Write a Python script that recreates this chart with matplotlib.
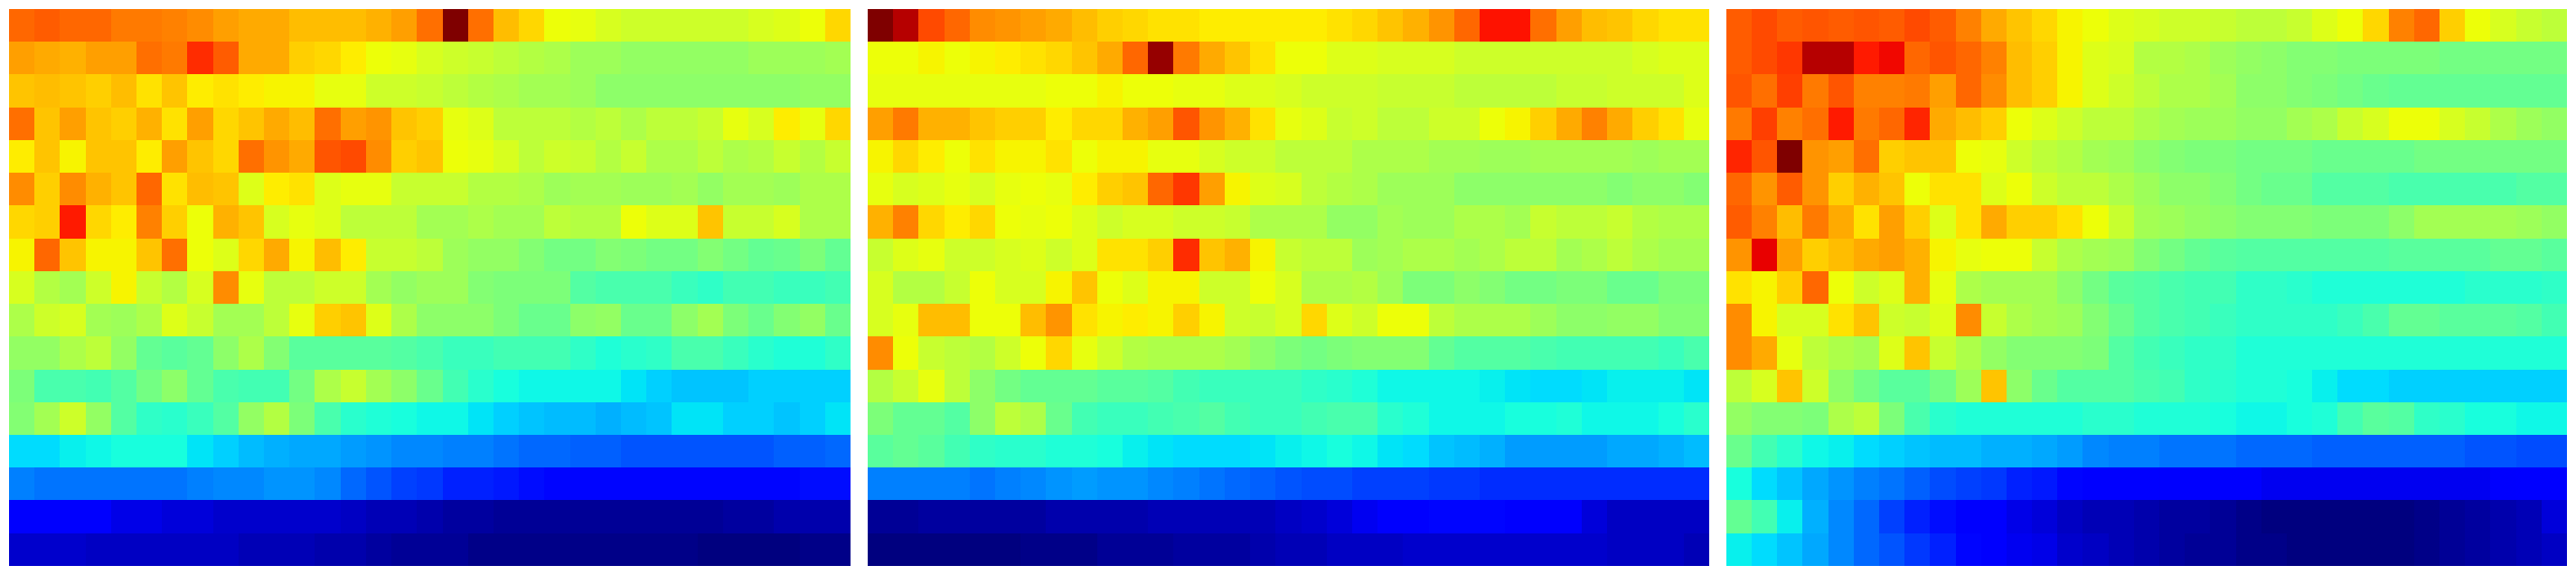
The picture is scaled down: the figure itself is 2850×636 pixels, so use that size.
"""
Three jet heatmaps side by side, no axes, 17 rows by 33 columns each
Values are read off the reference colours, in percent of the colour range
"""
import matplotlib
matplotlib.use('Agg')
import matplotlib.pyplot as plt
import numpy as np

left_panel = [
    [80,81,80,80,78,78,77,76,74,73,73,71,71,71,72,74,79,100,79,71,68,64,63,61,60,60,60,60,60,61,62,64,68],
    [74,73,72,74,74,79,78,86,81,73,73,69,68,66,64,63,61,60,59,58,57,56,54,54,53,53,53,53,53,54,54,54,55],
    [70,71,70,69,71,67,70,66,67,66,65,65,63,63,60,60,59,58,57,56,55,55,54,52,52,52,52,52,52,52,52,53,53],
    [79,70,74,70,69,72,67,74,68,70,73,71,79,74,75,70,69,63,62,58,58,58,57,58,56,58,58,59,63,61,66,63,68],
    [66,70,65,70,70,66,74,70,68,79,75,73,82,83,76,69,70,64,63,61,58,60,59,57,59,56,56,58,56,57,59,57,59],
    [76,69,76,72,70,80,67,71,70,62,66,67,62,63,63,59,59,59,57,57,56,54,55,55,54,54,55,53,55,55,54,56,56],
    [68,69,88,68,66,77,69,64,72,70,61,63,62,58,58,58,55,55,56,55,55,58,57,57,64,62,62,70,59,59,61,56,56],
    [65,80,70,65,65,70,79,64,62,68,73,65,71,66,59,59,58,54,53,53,51,49,49,51,50,49,49,51,49,47,48,50,47],
    [61,57,55,60,65,59,57,61,76,63,58,58,60,60,55,53,54,54,51,50,50,50,45,44,44,44,42,41,43,43,42,42,43],
    [56,60,61,55,54,56,62,59,55,55,58,63,69,70,62,56,52,52,52,50,48,48,52,53,48,48,52,55,50,48,51,53,48],
    [53,53,56,58,53,47,46,47,52,56,51,46,46,46,46,45,44,42,42,43,43,43,41,39,40,41,44,44,42,40,39,39,41],
    [50,44,44,43,45,49,52,47,44,43,43,49,56,59,55,52,48,43,40,38,37,37,37,37,35,33,32,32,32,33,33,33,33],
    [51,55,60,53,45,41,40,42,45,53,57,50,44,40,39,38,37,37,35,33,32,31,31,30,31,32,35,35,33,33,32,33,35],
    [34,34,36,37,38,38,38,35,33,31,30,29,29,28,27,26,26,25,25,24,23,23,22,22,21,21,21,21,21,21,22,22,23],
    [25,24,24,24,24,24,24,25,26,26,27,27,26,23,21,19,18,16,16,15,14,13,13,13,13,13,13,13,13,13,13,14,14],
    [11,11,11,11,9,9,8,8,7,7,7,7,7,6,5,5,4,3,3,2,2,2,2,2,2,2,2,2,3,3,4,4,4],
    [7,7,7,6,6,6,6,6,6,5,5,5,4,4,3,2,2,2,1,1,1,1,1,1,1,1,1,0,0,0,0,1,1],
]

middle_panel = [
    [100,95,83,80,76,75,74,73,71,69,68,67,67,66,66,66,66,66,67,68,70,72,75,80,89,89,79,74,71,70,68,67,67],
    [64,64,65,64,65,66,67,68,70,73,80,98,78,73,70,67,64,64,62,62,61,61,61,60,60,60,60,60,60,60,61,62,62],
    [63,63,63,63,63,63,63,64,64,65,64,64,63,63,62,62,61,60,60,60,59,59,59,58,58,58,58,59,59,60,60,60,62],
    [74,78,72,72,70,69,69,66,68,68,72,74,82,75,72,67,63,62,59,60,58,58,60,60,64,65,69,73,77,73,69,67,63],
    [65,68,66,64,67,65,65,67,64,65,65,63,63,61,60,60,58,58,58,56,56,56,55,55,54,54,55,55,55,55,54,55,55],
    [63,61,62,63,61,63,64,63,66,69,70,80,85,74,65,62,61,58,57,56,54,54,54,52,52,52,52,52,52,51,52,52,51],
    [72,77,68,66,68,64,63,64,62,60,61,61,60,60,59,56,56,56,53,53,55,54,54,56,56,55,59,58,58,59,57,56,56],
    [59,62,63,60,60,61,62,60,62,67,67,69,86,70,72,65,59,58,58,54,55,56,56,55,56,58,58,55,56,58,56,55,55],
    [61,57,57,59,64,61,61,65,70,64,62,65,65,60,60,64,61,56,56,57,54,50,50,52,51,49,49,50,50,48,48,50,50],
    [61,63,71,71,64,64,71,75,67,65,66,65,69,65,60,59,61,68,62,60,64,64,58,56,56,56,54,52,52,53,53,51,51],
    [76,64,59,58,57,60,64,68,63,60,57,56,56,56,55,52,50,49,50,51,51,51,47,45,45,45,44,43,43,43,43,42,44],
    [57,59,63,58,52,49,47,47,47,46,46,45,43,42,42,42,42,41,40,39,37,37,37,37,36,35,34,34,35,36,36,36,35],
    [50,47,47,45,52,58,56,48,43,42,42,43,44,45,43,42,42,43,44,44,40,39,37,37,37,38,38,39,37,37,37,38,40],
    [46,47,46,43,41,40,40,39,39,38,36,35,34,34,34,35,36,37,38,37,35,34,32,31,30,28,28,28,28,29,29,30,31],
    [25,25,25,25,24,25,26,27,28,27,27,26,25,24,23,22,21,20,20,19,19,19,18,18,17,17,17,17,17,17,17,17,17],
    [2,2,3,3,3,3,3,4,4,4,4,5,5,5,5,5,6,7,8,10,11,11,13,13,13,11,11,11,8,6,6,6,6],
    [0,0,0,0,0,0,1,1,1,2,2,2,3,3,3,4,5,5,6,6,6,7,7,7,7,7,7,7,7,6,6,6,5],
]

right_panel = [
    [81,83,81,82,81,82,81,83,81,77,73,70,68,65,64,62,61,60,60,59,58,58,59,62,64,68,77,80,69,64,61,59,58],
    [81,83,85,95,95,88,90,80,82,80,77,71,69,65,62,61,57,57,56,54,53,52,51,51,50,50,50,50,49,49,49,49,49],
    [82,79,84,78,82,77,77,78,74,80,76,71,69,65,62,60,58,56,56,55,52,52,51,50,49,48,47,47,47,47,47,47,47],
    [78,84,77,79,88,78,80,87,73,71,69,64,62,60,58,58,56,55,54,54,53,53,55,56,59,61,64,64,61,59,56,54,53],
    [87,82,100,75,74,79,69,70,70,64,63,60,58,57,55,54,52,51,50,50,49,49,49,48,48,48,48,49,49,49,49,49,49],
    [80,75,81,75,69,72,70,64,67,67,62,64,60,58,58,56,54,52,52,51,49,48,48,45,45,45,44,44,44,44,44,45,45],
    [81,77,71,78,73,67,74,69,62,67,73,69,69,67,64,59,55,54,53,52,51,51,51,50,50,50,52,55,55,55,55,54,53],
    [75,91,74,69,71,73,74,72,65,63,64,64,59,56,55,54,51,49,47,46,45,45,45,45,45,45,46,46,46,46,47,47,46],
    [67,65,69,80,64,60,62,72,63,56,55,55,55,52,49,46,45,44,43,43,41,41,40,39,39,39,39,39,39,40,40,40,41],
    [76,65,61,61,67,70,60,59,62,76,59,56,55,54,51,48,45,44,43,42,41,41,41,41,42,44,47,47,46,46,46,45,43],
    [76,73,63,58,56,55,62,70,59,56,53,51,51,51,50,45,43,42,41,41,39,39,39,39,39,39,39,39,39,39,39,39,39],
    [58,61,70,60,52,49,46,46,49,54,70,52,48,45,45,45,44,43,41,40,39,39,38,36,34,34,33,33,33,33,33,33,33],
    [53,51,51,50,56,58,50,44,40,39,39,39,39,39,40,40,39,39,39,38,37,37,38,39,43,46,45,41,40,38,38,37,37],
    [48,43,40,37,36,34,33,32,31,31,30,30,29,28,26,25,25,24,24,24,23,23,23,22,22,22,22,22,22,21,21,20,20],
    [38,34,32,29,27,25,24,22,20,19,18,16,15,13,12,12,12,11,11,11,11,10,10,10,10,10,10,10,10,10,11,12,12],
    [47,43,36,30,26,23,19,16,14,11,11,9,8,6,5,5,4,3,3,2,1,0,0,0,0,0,0,1,2,3,4,5,8],
    [36,34,32,29,26,23,21,18,16,13,11,10,9,7,6,5,4,3,2,2,1,1,0,0,0,0,0,1,2,3,4,5,6],
]

panels = [left_panel, middle_panel, right_panel]

# Pixel layout of the reference
width, height = 2850, 636
lefts = [10, 960, 1910]
panel_w = 930
top, bottom = 10, 626

fig = plt.figure(figsize=(width / 100, height / 100), dpi=100)

for x0, panel in zip(lefts, panels):
    ax = fig.add_axes([x0 / width, 1 - bottom / height, panel_w / width, (bottom - top) / height])
    ax.imshow(np.array(panel), cmap='jet', vmin=0, vmax=100, aspect='auto', interpolation='nearest')
    ax.axis('off')

plt.savefig('out.png', dpi=100)
plt.close()
